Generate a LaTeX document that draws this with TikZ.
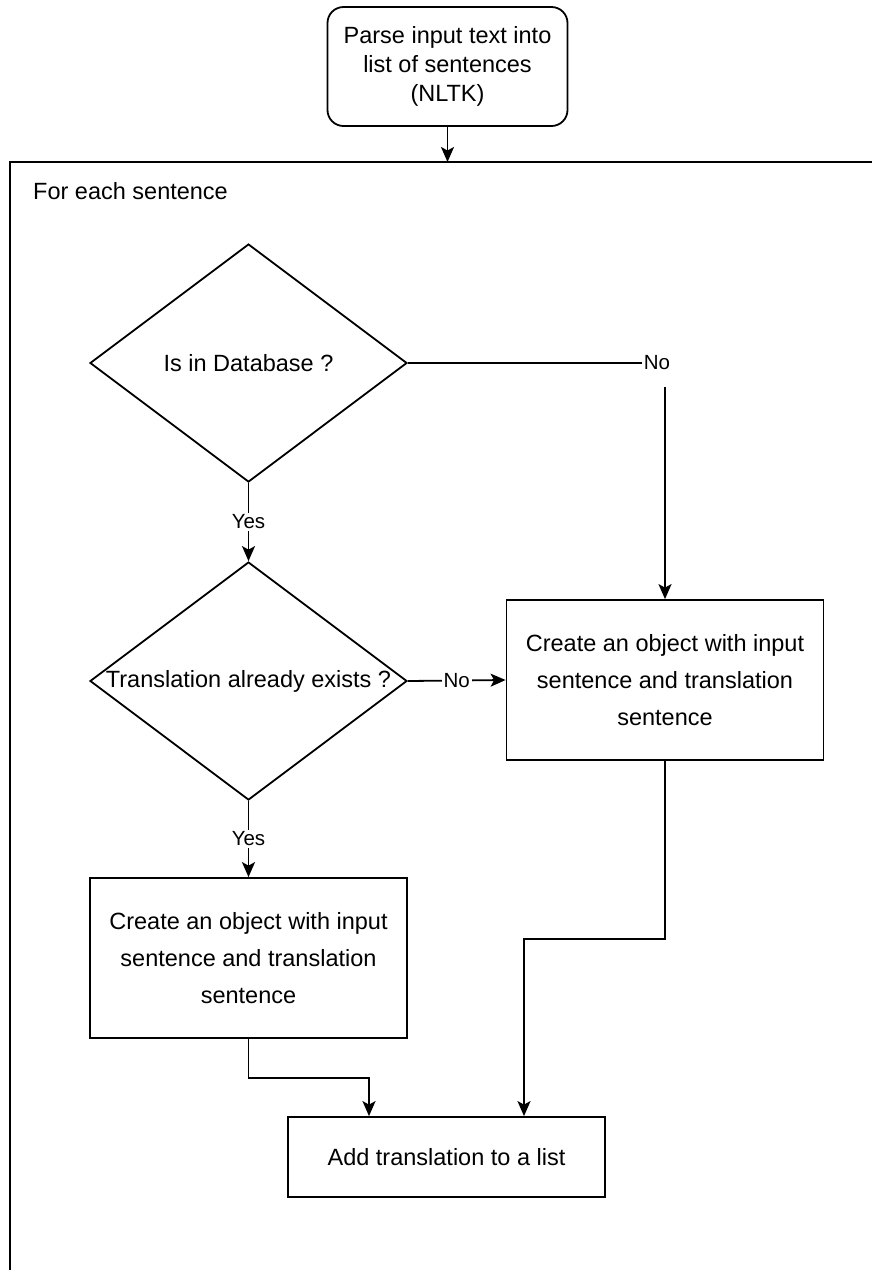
\documentclass[tikz,border=0pt]{standalone}
\usepackage{fontspec}
\setmainfont{Liberation Sans}
\usetikzlibrary{arrows.meta,shapes.geometric,calc}

\tikzset{
  basefont/.style={font=\fontsize{23.5}{29}\selectfont},
  startbox/.style={draw,line width=1.8pt,rounded corners=16pt,minimum width=240pt,
    minimum height=119pt,inner sep=0pt,align=center,basefont},
  flowbox/.style={draw,line width=1.8pt,minimum width=317pt,minimum height=160pt,
    inner sep=0pt,align=center,font=\fontsize{23.5}{37}\selectfont},
  decision/.style={draw,diamond,line width=1.8pt,minimum width=317pt,
    minimum height=238pt,inner sep=0pt},
  decisiontxt/.style={basefont,inner sep=0pt},
  edgelbl/.style={fill=white,inner sep=2pt,font=\fontsize{20.5}{24}\selectfont},
  arr/.style={line width=1.8pt,-{Stealth[length=15pt,width=13pt,inset=3.5pt]}},
  line/.style={line width=1.8pt}
}

\begin{document}
\begin{tikzpicture}[x=1pt,y=-1pt]
\useasboundingbox (0,0) rectangle (872,1270);

\node[startbox] (parse) at (447.5,66.5) {Parse input text into\\list of sentences\\(NLTK)};

\draw[line] (10,1272) |- (874,162);
\coordinate (loopin) at (447.5,162);
\node[basefont,anchor=base west,inner sep=0pt] (foreach) at (33,199) {For each sentence};

\node[decision,label={[decisiontxt]center:Is in Database ?}] (indb) at (248.5,363) {};
\node[decision,label={[decisiontxt]center:Translation already exists ?}] (trans) at (248.5,681) {};

\node[flowbox] (objright) at (665,680) {Create an object with input\\sentence and translation\\sentence};
\node[flowbox] (objleft) at (248.5,958) {Create an object with input\\sentence and translation\\sentence};
\node[flowbox,minimum height=80pt] (addlist) at (446.5,1157) {Add translation to a list};

\draw[arr] (parse.south) -- (loopin);
\draw[arr] (indb.east) -| node[edgelbl,pos=0.5,xshift=-8pt,minimum height=48pt] {No} (objright.north);
\draw[arr] (indb.south) -- node[edgelbl] {Yes} (trans.north);
\draw[arr] (trans.east) -- node[edgelbl] {No} (objright.west);
\draw[arr] (trans.south) -- node[edgelbl] {Yes} (objleft.north);
\draw[arr] (objleft.south) -- ++(0,39) -| ([xshift=-77.5pt]addlist.north);
\draw[arr] (objright.south) -- ++(0,178) -| ([xshift=77.5pt]addlist.north);

\end{tikzpicture}
\end{document}
